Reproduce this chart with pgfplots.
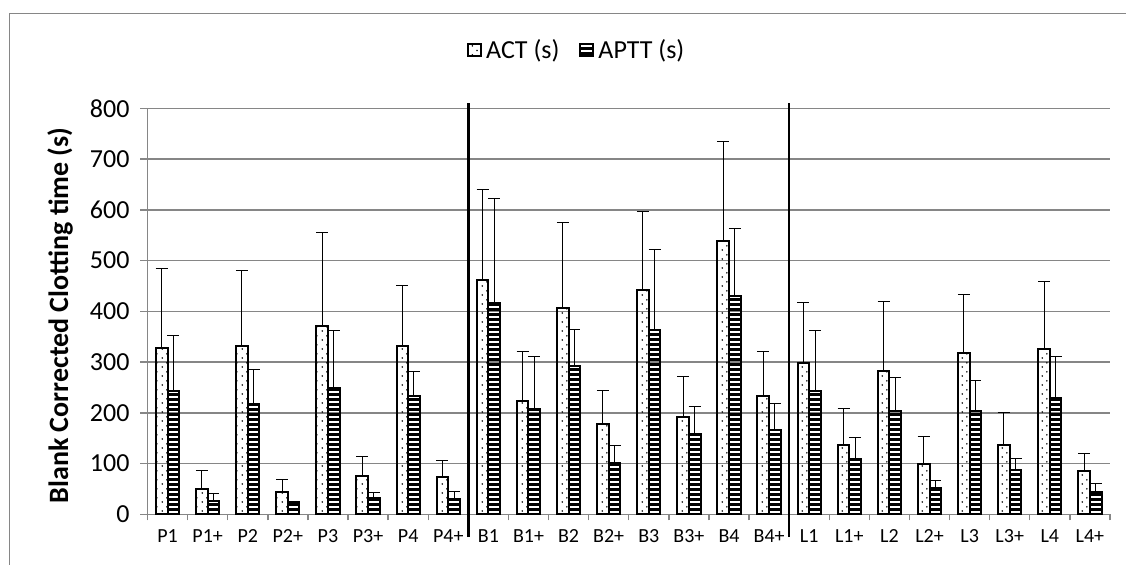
\documentclass[border=0pt]{standalone}
\usepackage{fontspec}
\setmainfont{Carlito}
\usepackage{pgfplots}
\pgfplotsset{compat=1.18}
\usetikzlibrary{patterns.meta}
\definecolor{gridgray}{HTML}{868686}

\tikzdeclarepattern{name=actdots, type=uncolored,
  bounding box={(0pt,0pt) and (5pt,4.3pt)}, tile size={(5pt,4.3pt)},
  code={\fill (1.25pt,1.07pt) circle (0.45pt); \fill (3.75pt,3.22pt) circle (0.45pt);}}
\tikzdeclarepattern{name=apttstripes, type=uncolored,
  bounding box={(0pt,0pt) and (2.45pt,2.45pt)}, tile size={(2.45pt,2.45pt)},
  code={\fill (0pt,0pt) rectangle (2.45pt,1.45pt);}}

\pgfplotstableread{
x act acterr aptt apterr
0  328 157 242 110
1  50  36  27  14
2  331 150 217 69
3  44  25  22  3
4  372 184 248 115
5  76  38  33  10
6  331 119 234 47
7  73  34  30  15
8  462 178 416 207
9  224 96  207 104
10 406 169 293 71
11 177 67  102 33
12 442 155 363 158
13 192 79  158 54
14 538 196 431 132
15 234 87  166 53
16 299 119 243 119
17 136 73  109 42
18 282 138 204 65
19 100 53  51  15
20 317 116 204 59
21 136 65  87  23
22 325 134 230 81
23 85  35  44  17
}\datatable

\begin{document}
\begin{tikzpicture}
\useasboundingbox (0pt,0pt) rectangle (563pt,282pt);
\draw[gridgray, line width=0.5pt] (4.5pt,-5pt) -- (4.5pt,275pt) -- (600pt,275pt);
\begin{axis}[
  at={(73.75pt,24.85pt)}, anchor=south west,
  width=481.25pt, height=203pt, scale only axis,
  ybar=0pt, bar width=0.29,
  xmin=-0.5, xmax=23.5, ymin=0, ymax=800,
  clip=false,
  axis x line*=bottom, axis y line*=left,
  axis line style={gridgray, line width=0.7pt},
  ymajorgrids, grid style={gridgray, line width=0.7pt},
  ytick={0,100,...,800},
  xtick={0,...,23},
  xticklabels={P1,P1+,P2,P2+,P3,P3+,P4,P4+,B1,B1+,B2,B2+,B3,B3+,B4,B4+,L1,L1+,L2,L2+,L3,L3+,L4,L4+},
  minor xtick={-0.5,0.5,...,23.5},
  tick align=outside,
  major x tick style={draw=none},
  minor x tick style={gridgray, line width=0.7pt},
  minor tick length=3pt,
  major y tick style={gridgray, line width=0.7pt},
  major tick length=3.5pt,
  /pgf/number format/assume math mode=true,
  yticklabel style={font=\fontsize{13}{16}\selectfont, xshift=-2pt},
  xticklabel style={font=\fontsize{10}{12}\selectfont, yshift=-0.5pt},
  every axis y label/.style={at={(axis description cs:-0.0909,0.49)}, rotate=90, anchor=center},
  ylabel={\fontsize{14}{16}\selectfont\bfseries Blank Corrected Clotting time (s)},
  legend style={at={(axis description cs:0.447,1.1436)}, anchor=center, draw=none,
    font=\fontsize{13}{15}\selectfont, legend columns=2,
    /tikz/every even column/.append style={column sep=8pt}},
  legend image code/.code={\draw[#1] (0pt,-3.1pt) rectangle (6.5pt,3.1pt);},
  error bars/y dir=plus, error bars/y explicit,
  error bars/error bar style={black, line width=0.5pt},
  error bars/error mark options={rotate=90, black, mark size=3pt, line width=0.5pt},
]
\addplot[draw=black, line width=1pt, pattern={actdots}, pattern color=black]
  table[x=x, y=act, y error=acterr] {\datatable};
\addlegendentry{ACT (s)}
\addplot[draw=black, line width=1pt, pattern={apttstripes}, pattern color=black]
  table[x=x, y=aptt, y error=apterr] {\datatable};
\addlegendentry{APTT (s)}
\draw[black, line width=1.2pt] (axis cs:7.5,-45) -- (axis cs:7.5,810);
\draw[black, line width=1.2pt] (axis cs:15.5,-45) -- (axis cs:15.5,810);
\end{axis}
\end{tikzpicture}
\end{document}
